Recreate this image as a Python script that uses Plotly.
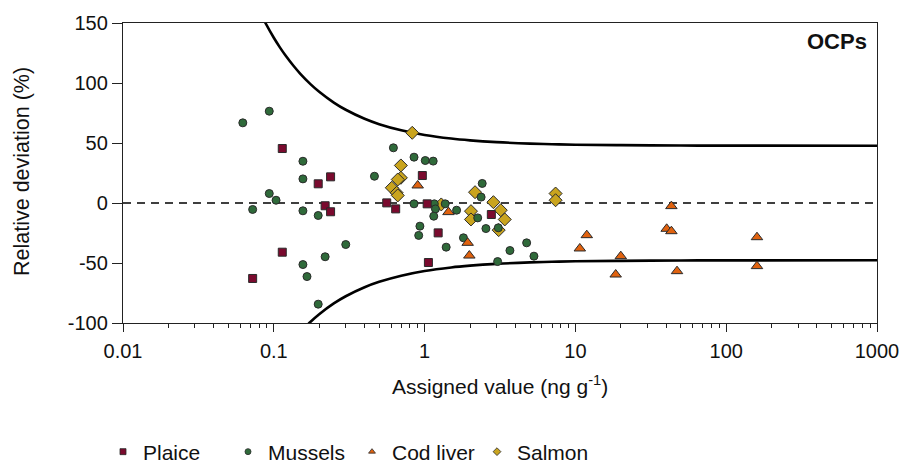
import plotly.graph_objects as go

# ---- data ----
plaice_x = [0.0724, 0.1138, 0.1138, 0.197, 0.219, 0.238, 0.238, 0.561, 0.643, 0.966, 1.04, 1.06, 1.23, 2.77]
plaice_y = [-62.9, 45.4, -41.0, 16.0, -2.3, 21.8, -7.3, 0.1, -4.9, 22.9, -0.7, -49.6, -24.9, -9.6]

mussels_x = [0.0623, 0.0933, 0.0933, 0.1035, 0.0724, 0.156, 0.156, 0.156, 0.156, 0.166, 0.197, 0.197,
             0.219, 0.300, 0.465, 0.621, 0.851, 0.851, 1.01, 1.14, 1.16, 1.37, 1.18, 1.15, 1.63,
             0.931, 0.914, 1.39, 1.81, 2.41, 2.37, 2.25, 2.55, 3.08, 3.68, 4.75, 5.31, 3.05]
mussels_y = [66.8, 76.5, 7.9, 2.3, -5.4, 34.8, 20.1, -6.5, -51.3, -61.3, -10.4, -84.3,
             -44.8, -34.6, 22.3, 46.0, 38.2, -0.7, 35.4, 34.9, -0.7, -0.7, -4.9, -11.0, -6.0,
             -19.3, -27.0, -36.8, -29.0, 16.3, 4.9, -12.4, -21.3, -20.7, -39.6, -33.2, -44.3, -48.8]

cod_x = [0.90, 1.44, 1.93, 1.98, 10.7, 11.9, 18.5, 20.0, 40.3, 43.3, 43.3, 47.2, 160, 160]
cod_y = [14.6, -7.6, -33.2, -43.8, -37.9, -26.8, -59.6, -44.3, -21.5, -2.6, -23.5, -56.8, -28.5, -52.6]

salmon_x = [0.828, 0.696, 0.696, 0.664, 0.606, 0.653, 0.664, 1.29, 2.16, 2.03, 2.03, 2.86, 3.20,
            3.40, 3.10, 7.39, 7.39]
salmon_y = [58.5, 31.3, 21.0, 19.6, 12.7, 8.5, 6.3, -1.2, 9.0, -6.8, -13.7, 0.7, -6.0,
            -13.7, -22.6, 7.9, 2.3]

# acceptance limits
upper_x = [0.08, 0.088, 0.1, 0.11, 0.12, 0.135, 0.15, 0.175, 0.2, 0.25, 0.3, 0.4, 0.5, 0.7, 1, 1.5,
           2, 3, 5, 7, 10, 20, 50, 100, 1000]
upper_y = [160.2, 150.0, 137.7, 129.5, 122.7, 114.4, 107.7, 99.1, 92.7, 83.7, 77.7, 70.2, 65.7,
           60.6, 56.7, 53.7, 52.2, 50.7, 49.5, 49.0, 48.6, 48.2, 47.9, 47.8, 47.7]
lower_x = [0.16, 0.174, 0.2, 0.25, 0.3, 0.4, 0.5, 0.7, 1, 1.5, 2, 3, 5, 7, 10, 20, 50, 100, 1000]
lower_y = [-104.0, -99.4, -92.7, -83.7, -77.7, -70.2, -65.7, -60.6, -56.7, -53.7, -52.2, -50.7,
           -49.5, -49.0, -48.6, -48.2, -47.9, -47.8, -47.7]

zero_x = [0.01, 1000]
zero_y = [0, 0]

series_names = ["Plaice", "Mussels", "Cod liver", "Salmon"]
y_ticks = [-100, -50, 0, 50, 100, 150]
y_ticklabels = ["-100", "-50", "0", "50", "100", "150"]
x_ticks = [0.01, 0.1, 1, 10, 100, 1000]
x_ticklabels = ["0.01", "0.1", "1", "10", "100", "1000"]

# ---- styles ----
C_PLAICE = "#7a0a2e"
C_MUSSEL = "#2f6a3a"
C_COD = "#e0620f"
C_SALMON = "#c9a41e"
EDGE = "#2a2a2a"
FONT = "Liberation Sans, Arial, Helvetica, sans-serif"

W, H = 903, 461
ML, MR, MT, MB = 123, 26, 23, 138
PW, PH = W - ML - MR, H - MT - MB

fig = go.Figure()

fig.add_trace(go.Scatter(x=zero_x, y=zero_y, mode="lines", showlegend=False, hoverinfo="skip",
                         line=dict(color="#000", width=1.3, dash="8px,6px")))
fig.add_trace(go.Scatter(x=upper_x, y=upper_y, mode="lines", showlegend=False, hoverinfo="skip",
                         line=dict(color="#000", width=2.6, shape="spline")))
fig.add_trace(go.Scatter(x=lower_x, y=lower_y, mode="lines", showlegend=False, hoverinfo="skip",
                         line=dict(color="#000", width=2.6, shape="spline")))

fig.add_trace(go.Scatter(x=salmon_x, y=salmon_y, mode="markers", showlegend=False,
                         marker=dict(symbol="diamond", size=10, color=C_SALMON,
                                     line=dict(color=EDGE, width=1))))
fig.add_trace(go.Scatter(x=mussels_x, y=mussels_y, mode="markers", showlegend=False,
                         marker=dict(symbol="circle", size=8, color=C_MUSSEL,
                                     line=dict(color=EDGE, width=1))))
fig.add_trace(go.Scatter(x=cod_x, y=cod_y, mode="markers", showlegend=False,
                         marker=dict(symbol="triangle-up", size=10, color=C_COD,
                                     line=dict(color=EDGE, width=1))))
fig.add_trace(go.Scatter(x=plaice_x, y=plaice_y, mode="markers", showlegend=False,
                         marker=dict(symbol="square", size=8, color=C_PLAICE,
                                     line=dict(color=EDGE, width=1))))

# legend entries, one small legend per series so each sits exactly where the reference has it
legend_ids = ["legend", "legend2", "legend3", "legend4"]
legend_left_px = [103, 228, 352, 477]
for name, sym, col, lid in zip(series_names, ["square", "circle", "triangle-up", "diamond"],
                               [C_PLAICE, C_MUSSEL, C_COD, C_SALMON], legend_ids):
    fig.add_trace(go.Scatter(x=[None], y=[None], mode="markers", name=name, legend=lid,
                             marker=dict(symbol=sym, size=6, color=col,
                                         line=dict(color=EDGE, width=0.8))))

legend_layout = {}
for lid, lx in zip(legend_ids, legend_left_px):
    legend_layout[lid] = dict(orientation="h", xref="container", yref="container",
                              x=lx / W, xanchor="left", y=1 - 452 / H, yanchor="middle",
                              font=dict(size=21, family=FONT, color="#111"),
                              itemclick=False, bgcolor="rgba(0,0,0,0)")

fig.update_layout(
    width=W, height=H,
    margin=dict(l=ML, r=MR, t=MT, b=MB, autoexpand=False),
    paper_bgcolor="white", plot_bgcolor="white",
    font=dict(family=FONT, size=20, color="#111"),
    showlegend=True,
    xaxis=dict(type="log", range=[-2, 3], tickvals=x_ticks, ticktext=x_ticklabels,
               automargin=False,
               showgrid=False, zeroline=False, showline=True, mirror=True,
               linecolor="#222", linewidth=1.3, ticks="outside", ticklen=8, tickwidth=1.2,
               tickcolor="#222", ticklabelstandoff=2,
               minor=dict(ticks="outside", ticklen=4, tickwidth=1, tickcolor="#222",
                          dtick="D1", showgrid=False)),
    yaxis=dict(range=[-100, 150], tickvals=y_ticks, ticktext=y_ticklabels,
               showgrid=False, zeroline=False,
               automargin=False,
               showline=True, mirror=True, linecolor="#222", linewidth=1.3,
               ticks="outside", ticklen=10, tickwidth=1.2, tickcolor="#222"),
    annotations=[
        dict(text="<b>OCPs</b>", xref="paper", yref="paper", x=1, y=1, xanchor="right",
             yanchor="top", xshift=-8, yshift=-4, showarrow=False, font=dict(size=22)),
        dict(text="Assigned value (ng g<sup>-1</sup>)", xref="paper", yref="paper",
             x=(500 - ML) / PW, y=((H - MB) - 385) / PH, xanchor="center",
             yanchor="middle", showarrow=False, font=dict(size=21)),
        dict(text="Relative deviation (%)", xref="paper", yref="paper", textangle=-90,
             x=(22 - ML) / PW, y=((H - MB) - 172) / PH, xanchor="center", yanchor="middle",
             showarrow=False, font=dict(size=21.5)),
    ],
    **legend_layout,
)

fig.write_html("out.html")
